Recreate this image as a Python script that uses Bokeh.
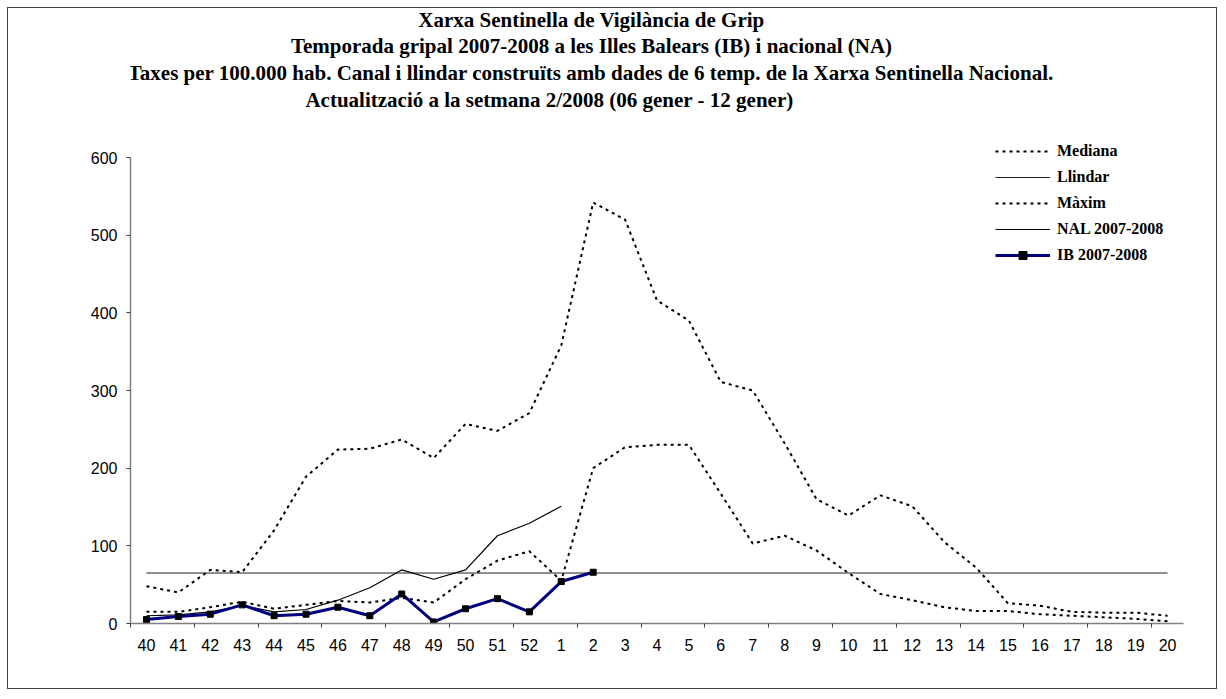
from bokeh.plotting import figure
from bokeh.models import (FactorRange, Range1d, LinearAxis, FixedTicker, SingleIntervalTicker,
                          Label, Legend, LegendItem)
from bokeh.embed import file_html
from bokeh.resources import INLINE

# ---------------- data ----------------
weeks = ["40", "41", "42", "43", "44", "45", "46", "47", "48", "49", "50", "51", "52",
         "1", "2", "3", "4", "5", "6", "7", "8", "9", "10", "11", "12", "13", "14",
         "15", "16", "17", "18", "19", "20"]

mediana = [15, 15, 21, 28, 19, 24, 29, 27, 33, 27, 57, 81, 93,
           55, 200, 227, 230, 230, 167, 103, 113, 94, 65, 38, 30, 21, 16,
           16, 12, 10, 8, 6, 3]

maxim = [48, 40, 69, 66, 120, 189, 224, 225, 237, 213, 257, 248, 271,
         358, 542, 520, 416, 390, 311, 300, 232, 160, 139, 165, 151, 105, 72,
         26, 23, 15, 14, 14, 10]

llindar = [65, 65, 65, 65, 65, 65, 65, 65, 65, 65, 65, 65, 65,
           65, 65, 65, 65, 65, 65, 65, 65, 65, 65, 65, 65, 65, 65,
           65, 65, 65, 65, 65, 65]

nal_weeks = weeks[:14]
nal = [10, 11, 15, 23, 15, 18, 30, 46, 69, 57, 69, 113, 129, 151]

ib_weeks = weeks[:15]
ib = [5, 9, 12, 24, 10, 12, 21, 10, 38, 2, 19, 32, 15, 54, 66]

titles = [
    "Xarxa Sentinella de Vigilància de Grip",
    "Temporada gripal 2007-2008 a les Illes Balears (IB) i nacional (NA)",
    "Taxes per 100.000 hab.  Canal i llindar construïts amb dades de 6 temp. de la Xarxa Sentinella Nacional.",
    "Actualització a la setmana 2/2008 (06 gener - 12 gener)",
]

# ---------------- layout ----------------
FRAME_H = 615          # frame extends up to the top border so titles / legend are inside
AXIS_H = 466           # pixel height of the 0..600 value axis
y_top = 600 * FRAME_H / AXIS_H

p = figure(width=1210, height=682,
           x_range=FactorRange(*weeks), y_range=Range1d(0, y_top),
           x_axis_type=None, output_backend="svg", toolbar_location=None,
           min_border_left=122, min_border_right=35, min_border_top=0, min_border_bottom=67)
p.styles = {"border": "1px solid #404040", "margin-left": "7px", "margin-top": "7px"}
p.outline_line_color = None
p.ygrid.grid_line_color = None
p.background_fill_color = "white"
p.border_fill_color = "white"

# y axis
ya = p.yaxis[0]
ya.ticker = SingleIntervalTicker(interval=100)
ya.bounds = (0, 600)
ya.minor_tick_line_color = None
ya.axis_line_color = "#808080"
ya.axis_line_width = 1.5
ya.major_tick_line_color = "#404040"
ya.major_tick_out = 4
ya.major_tick_in = 0
ya.major_label_standoff = 9
ya.major_label_text_font = "Liberation Sans"
ya.major_label_text_font_size = "16px"
ya.major_label_text_color = "black"

# x axis: labels at category centres, tick marks at every second boundary
centres = [i + 0.5 for i in range(len(weeks))]
bounds = list(range(0, len(weeks), 2))
xa = LinearAxis(ticker=FixedTicker(ticks=centres, minor_ticks=bounds),
                major_label_overrides={c: w for c, w in zip(centres, weeks)})
xa.axis_line_color = "#808080"
xa.axis_line_width = 1.5
xa.major_tick_line_color = None
xa.major_tick_out = 0
xa.major_tick_in = 0
xa.minor_tick_line_color = "#404040"
xa.minor_tick_out = 4
xa.minor_tick_in = 0
xa.major_label_standoff = 11
xa.major_label_text_font = "Liberation Sans"
xa.major_label_text_font_size = "16px"
xa.major_label_text_color = "black"
p.add_layout(xa, "below")

# ---------------- series ----------------
r_max = p.line(weeks, maxim, line_color="black", line_width=2, line_dash="3 4")
r_med = p.line(weeks, mediana, line_color="black", line_width=2, line_dash="3 4")
r_llin = p.line(weeks, llindar, line_color="#202020", line_width=1)
r_nal = p.line(nal_weeks, nal, line_color="black", line_width=1.2)
r_ib = p.line(ib_weeks, ib, line_color="#000080", line_width=3)
r_ibm = p.scatter(ib_weeks, ib, marker="square", size=6, fill_color="black", line_color="black")

legend = Legend(items=[
    LegendItem(label="Mediana", renderers=[r_med]),
    LegendItem(label="Llindar", renderers=[r_llin]),
    LegendItem(label="Màxim", renderers=[r_max]),
    LegendItem(label="NAL 2007-2008", renderers=[r_nal]),
    LegendItem(label="IB 2007-2008", renderers=[r_ib, r_ibm]),
], location=(865, 358), glyph_width=55, glyph_height=20, label_height=20, spacing=6,
    label_standoff=7, padding=0, margin=0, border_line_color=None, background_fill_alpha=0,
    label_text_font="Liberation Serif", label_text_font_style="bold",
    label_text_font_size="16px", label_text_color="black")
p.add_layout(legend)

# ---------------- titles ----------------
title_x = [461, 461, 463, 419]
title_y = [604, 578, 551, 524]
for t, tx, ty in zip(titles, title_x, title_y):
    p.add_layout(Label(x=tx, y=ty, x_units="screen", y_units="screen", text=t,
                       text_font="Liberation Serif", text_font_style="bold",
                       text_font_size="21px", text_align="center",
                       text_baseline="alphabetic", text_color="black"))

open("out.html", "w").write(file_html(p, INLINE))
